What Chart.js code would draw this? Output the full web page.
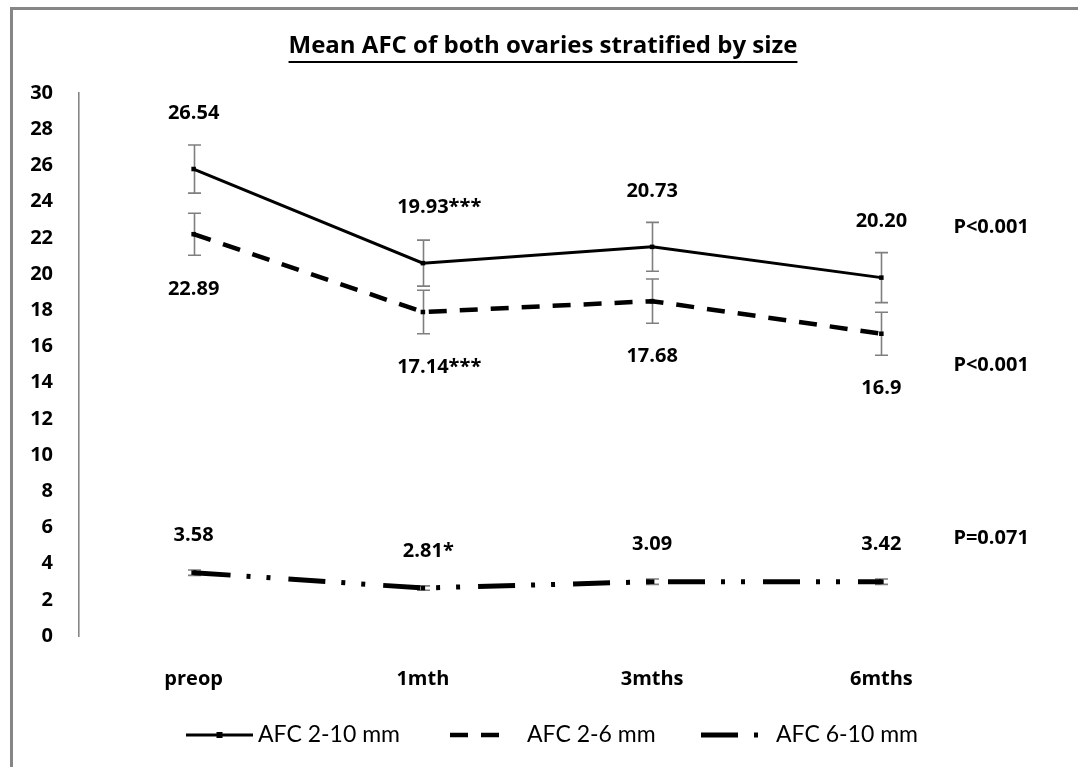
<!DOCTYPE html>
<html>
<head>
<meta charset="utf-8">
<title>Mean AFC of both ovaries stratified by size</title>
<script src="https://cdn.jsdelivr.net/npm/chart.js@4.4.1/dist/chart.umd.min.js"></script>
<style>
    html, body { margin: 0; padding: 0; background: #fff; }
    #wrap { width: 1078px; height: 767px; position: relative; }
</style>
</head>
<body>
<div id="wrap"><canvas id="afc"></canvas></div>
<script>
// Values (means plotted, error bar half-widths, printed labels).
const categories = ['preop', '1mth', '3mths', '6mths'];

const afc2to10 = [25.8, 20.6, 21.5, 19.8];
const afc2to6 = [22.2, 17.9, 18.5, 16.7];
const afc6to10 = [3.5, 2.65, 3.0, 3.0];

const err2to10 = [1.33, 1.27, 1.35, 1.38];
const err2to6 = [1.16, 1.2, 1.22, 1.19];
const err6to10 = [0.15, 0.12, 0.15, 0.15];

const labels2to10 = ['26.54', '19.93***', '20.73', '20.20'];
const labels2to6 = ['22.89', '17.14***', '17.68', '16.9'];
const labels6to10 = ['3.58', '2.81*', '3.09', '3.42'];

const pValues = ['P<0.001', 'P<0.001', 'P=0.071'];

const Y_MIN = 0;
const Y_MAX = 30;
const Y_STEP = 2;

const BOLD_FONT = '"Open Sans", Lato, sans-serif';
const LEGEND_FONT = 'Lato, "Open Sans", sans-serif';
const AXIS_GREY = '#868686';
const ERR_GREY = '#7f7f7f';

// Excel-ish line looks: solid, long dash, long dash-dot-dot
const SERIES_STYLE = [
    { width: 3, dash: [] },
    { width: 4.5, dash: [18, 13] },
    { width: 5, dash: [37, 16, 4, 16, 4, 18] }
];

// the frame, title, error bars, value labels, p-values and legend are drawn by small plugins
const framePlugin = {
    id: 'frame',
    beforeDraw(chart) {
        const ctx = chart.ctx;
        ctx.save();
        ctx.fillStyle = '#fff';
        ctx.fillRect(0, 0, chart.width, chart.height);
        ctx.strokeStyle = AXIS_GREY;
        ctx.lineWidth = 3;
        ctx.beginPath();
        ctx.moveTo(11.5, chart.height);
        ctx.lineTo(11.5, 8.5);
        ctx.lineTo(chart.width, 8.5);
        ctx.stroke();
        ctx.restore();
    }
};

const titlePlugin = {
    id: 'ulTitle',
    afterDraw(chart, args, opts) {
        const ctx = chart.ctx;
        ctx.save();
        ctx.font = 'bold 24px ' + BOLD_FONT;
        ctx.fillStyle = '#000';
        ctx.textAlign = 'center';
        ctx.textBaseline = 'alphabetic';
        ctx.fillText(opts.text, opts.x, opts.y);
        const w = ctx.measureText(opts.text).width;
        ctx.fillRect(opts.x - w / 2, opts.y + 8, w, 2);
        ctx.restore();
    }
};

const errorBarPlugin = {
    id: 'errorBars',
    beforeDatasetsDraw(chart, args, opts) {
        const ctx = chart.ctx;
        const y = chart.scales.y;
        ctx.save();
        ctx.strokeStyle = ERR_GREY;
        ctx.lineWidth = 1.6;
        chart.data.datasets.forEach((ds, di) => {
            const errs = opts.errors[di];
            chart.getDatasetMeta(di).data.forEach((pt, i) => {
                const top = y.getPixelForValue(ds.data[i] + errs[i]);
                const bot = y.getPixelForValue(ds.data[i] - errs[i]);
                const x = Math.round(pt.x) + 0.5;
                ctx.beginPath();
                ctx.moveTo(x, top);
                ctx.lineTo(x, bot);
                ctx.moveTo(x - 6.5, top);
                ctx.lineTo(x + 6.5, top);
                ctx.moveTo(x - 6.5, bot);
                ctx.lineTo(x + 6.5, bot);
                ctx.stroke();
            });
        });
        ctx.restore();
    }
};

const valueLabelPlugin = {
    id: 'valueLabels',
    afterDatasetsDraw(chart, args, opts) {
        const ctx = chart.ctx;
        ctx.save();
        ctx.font = 'bold 20px ' + BOLD_FONT;
        ctx.fillStyle = '#000';
        ctx.textBaseline = 'middle';
        ctx.textAlign = 'left';
        chart.data.datasets.forEach((ds, di) => {
            const texts = opts.labels[di];
            chart.getDatasetMeta(di).data.forEach((pt, i) => {
                const t = texts[i];
                // centre the number itself, let the stars hang to the right
                const num = t.replace(/\*+$/, '');
                const w = ctx.measureText(num).width;
                ctx.fillText(t, pt.x - w / 2, pt.y + opts.offsets[di]);
            });
            // p-value beside the last point of the series
            const last = chart.getDatasetMeta(di).data[ds.data.length - 1];
            ctx.fillText(opts.pValues[di], last.x + 72, last.y + opts.pOffsets[di]);
        });
        ctx.restore();
    }
};

const legendPlugin = {
    id: 'lineLegend',
    afterDraw(chart, args, opts) {
        const ctx = chart.ctx;
        ctx.save();
        ctx.font = '23px ' + LEGEND_FONT;
        ctx.textBaseline = 'middle';
        ctx.textAlign = 'left';
        opts.items.forEach((it, di) => {
            const ds = chart.data.datasets[di];
            const yy = opts.y;
            ctx.strokeStyle = '#000';
            ctx.lineWidth = ds.borderWidth;
            ctx.setLineDash(ds.borderDash || []);
            ctx.beginPath();
            ctx.moveTo(it.x0, yy);
            ctx.lineTo(it.x1, yy);
            ctx.stroke();
            ctx.setLineDash([]);
            if (di === 0) {
                ctx.fillStyle = '#000';
                const mx = (it.x0 + it.x1) / 2;
                ctx.fillRect(mx - 3, yy - 3, 6, 6);
            }
            ctx.fillStyle = '#000';
            ctx.fillText(ds.label, it.tx, yy);
        });
        ctx.restore();
    }
};

function makeDataset(label, data, idx) {
    const st = SERIES_STYLE[idx];
    return {
        label,
        data,
        borderColor: '#000',
        backgroundColor: '#000',
        borderWidth: st.width,
        borderDash: st.dash,
        borderCapStyle: 'butt',
        tension: 0,
        fill: false,
        pointStyle: 'rect',
        pointRadius: 3.2,
        pointBorderWidth: 0,
        pointBackgroundColor: '#000'
    };
}

new Chart(document.getElementById('afc'), {
    type: 'line',
    data: {
        labels: categories,
        datasets: [
            makeDataset('AFC 2-10 mm', afc2to10, 0),
            makeDataset('AFC 2-6 mm', afc2to6, 1),
            makeDataset('AFC 6-10 mm', afc6to10, 2)
        ]
    },
    plugins: [framePlugin, errorBarPlugin, valueLabelPlugin, titlePlugin, legendPlugin],
    options: {
        responsive: true,
        maintainAspectRatio: false,
        animation: false,
        devicePixelRatio: 1,
        layout: { padding: { top: 93, right: 82, bottom: 76, left: 0 } },
        scales: {
            x: {
                offset: true,
                grid: { display: false, drawTicks: false },
                border: { display: false },
                ticks: { color: '#000', font: { family: BOLD_FONT, size: 20, weight: 'bold' }, padding: 31 },
                afterFit(scale) { scale.height = 55; }
            },
            y: {
                min: Y_MIN,
                max: Y_MAX,
                grid: { display: false, drawTicks: false },
                border: { display: true, color: AXIS_GREY, width: 1.6 },
                ticks: {
                    stepSize: Y_STEP,
                    color: '#000',
                    font: { family: BOLD_FONT, size: 20, weight: 'bold' },
                    padding: 26
                },
                afterFit(scale) { scale.width = 79; }
            }
        },
        plugins: {
            legend: { display: false },
            tooltip: { enabled: false },
            ulTitle: { text: 'Mean AFC of both ovaries stratified by size', x: 543, y: 53 },
            errorBars: { errors: [err2to10, err2to6, err6to10] },
            valueLabels: {
                labels: [labels2to10, labels2to6, labels6to10],
                offsets: [-56, 55, -37],
                pValues,
                pOffsets: [-50, 32, -43]
            },
            lineLegend: {
                y: 735,
                items: [
                    { x0: 186, x1: 253, tx: 258 },
                    { x0: 450, x1: 504, tx: 527 },
                    { x0: 701, x1: 760, tx: 776 }
                ]
            }
        }
    }
});
</script>
</body>
</html>
